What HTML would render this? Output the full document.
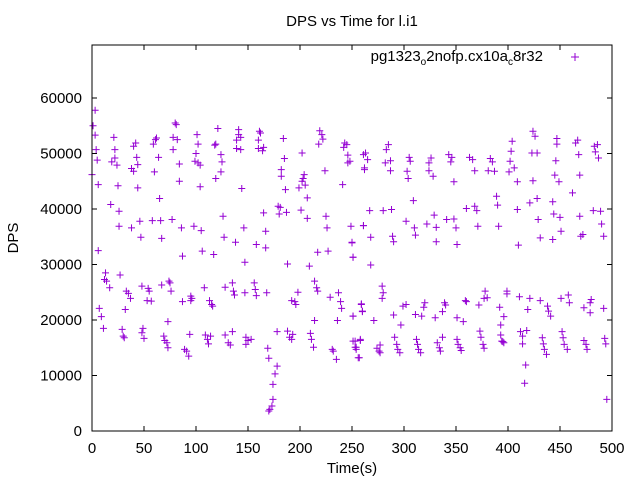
<!DOCTYPE html>
<html><head><meta charset="utf-8"><style>
html,body{margin:0;padding:0;background:#fff;}
svg{display:block;font-family:"Liberation Sans",Arial,sans-serif;}
</style></head><body>
<svg id="chart" width="640" height="480" viewBox="0 0 640 480" xmlns="http://www.w3.org/2000/svg">
<rect width="640" height="480" fill="#fff"/>
<text x="352" y="26" font-size="15" text-anchor="middle" fill="#000">DPS vs Time for l.i1</text>
<text x="0" y="0" font-size="15" text-anchor="middle" transform="translate(18,238) rotate(-90)">DPS</text>
<text x="352" y="473" font-size="15" text-anchor="middle">Time(s)</text>
<g id="ticks"></g>
<g id="points"></g>
<rect x="92" y="45" width="520" height="386" fill="none" stroke="#000" stroke-width="1"/>
<g>
<text x="543" y="61" font-size="15" text-anchor="end">pg1323<tspan font-size="10" dy="4">o</tspan><tspan dy="-4">2nofp.cx10a</tspan><tspan font-size="10" dy="4">c</tspan><tspan dy="-4">8r32</tspan></text>
<path d="M571 57h8M575 53v8" stroke="#9400d3" stroke-width="1"/>
</g>
</svg>
<script>
const xTicks = [0, 50, 100, 150, 200, 250, 300, 350, 400, 450, 500];
const yTicks = [0, 10000, 20000, 30000, 40000, 50000, 60000];
const samples = [
[3,57800],[1,55000],[3,53300],[4,50700],[5,48800],[21,52900],[22,50700],[19,48500],[22,49200],[24,47900],[40,51300],[42,51900],[43,49300],[44,48000],[38,47300],[40,46800],[59,51700],[61,52500],[62,52800],[64,49300],[60,46700],[80,55500],[81,55200],[78,52900],[82,52500],[78,50700],[84,48100],[84,45000],[101,53400],[102,51700],[100,50000],[99,48600],[102,48300],[104,47900],[121,54500],[119,51700],[118,51500],[124,49800],[125,48500],[124,46700],[119,45500],[141,54300],[141,53400],[143,52900],[139,52400],[139,50900],[143,50700],[160,52400],[162,53700],[161,54000],[160,50900],[164,50500],[165,51100],[184,52700],[185,49100],[182,47100],[182,45900],[186,43500],[144,43700],[202,50100],[204,46200],[203,45500],[202,45000],[205,44300],[199,43800],[207,42000],[219,54100],[221,53400],[222,52600],[218,51700],[224,46900],[242,51100],[243,51900],[245,51600],[246,49700],[246,48300],[241,44400],[261,49800],[262,47100],[6,44400],[25,44200],[44,43800],[65,41900],[104,44000],[0,46200],
[18,40800],[26,39600],[26,36900],[38,36600],[46,37800],[47,34900],[58,37900],[66,37900],[67,34700],[77,38100],[86,36600],[87,31500],[98,36900],[105,36100],[106,32400],[117,31800],[126,38700],[127,34900],[138,34000],[146,36600],[147,30400],[158,33600],[165,39300],[167,36000],[167,33000],[179,40500],[181,40300],[180,39100],[187,39400],[188,30100],[201,39800],[207,38300],[209,29700],[217,32200],[225,38700],[226,36600],[227,32400],[249,36900],[250,34000],[251,31300],[261,37000],[6,32500],
[13,28500],[12,27300],[14,27000],[17,25800],[27,28100],[33,25200],[35,24800],[37,23900],[32,21900],[48,26100],[53,23500],[54,25700],[55,25200],[57,23400],[67,26300],[74,27000],[75,26700],[76,25200],[87,23300],[95,24300],[96,23900],[95,23500],[108,25800],[113,23500],[115,22800],[116,22500],[128,25900],[135,26700],[136,25200],[137,24500],[147,24900],[156,26700],[157,25500],[158,24400],[168,24900],[192,23500],[195,23300],[196,22800],[198,25000],[214,19900],[214,27000],[216,25800],[217,25200],[229,24100],[236,19900],[237,24900],[239,23300],[240,22100],[251,20700],[259,22800],[260,21500],[7,22100],[9,20600],[11,18500],[73,19700],
[29,18300],[30,17100],[31,16800],[48,17700],[49,18500],[50,16700],[69,17100],[70,16300],[72,15900],[73,15000],[89,14700],[91,14400],[93,13500],[94,17400],[109,17300],[111,16500],[112,15700],[114,17100],[128,17300],[131,15900],[133,15500],[135,17900],[148,16900],[150,16300],[153,16500],[148,15600],[169,14900],[170,13100],[170,3600],[171,3900],[173,4500],[174,5700],[174,8400],[176,10300],[178,11700],[178,17900],[188,18000],[190,16900],[192,16500],[193,17400],[210,17600],[211,16500],[213,15100],[231,14700],[232,14400],[235,12900],[253,16200],[254,15100],[256,13200],[258,16500],
[263,50100],[265,48900],[262,47400],[283,50700],[285,51600],[282,48300],[287,48700],[287,46900],[305,49300],[306,48600],[303,46800],[304,45500],[324,48300],[326,49200],[324,46900],[328,45900],[343,49800],[346,49300],[345,48500],[348,44900],[363,49300],[366,48900],[368,46900],[383,49100],[385,48500],[381,46900],[387,46800],[404,52200],[403,50400],[402,48600],[401,46700],[406,47400],[409,44900],[424,54000],[426,53100],[423,50100],[428,50100],[424,45100],[447,52700],[447,51700],[446,48700],[445,46100],[449,44900],[465,51900],[467,52400],[468,49800],[469,46100],[483,51300],[484,50300],[487,49200],[486,51600],[248,48600],
[261,37000],[268,29900],[267,39700],[268,34900],[280,39700],[288,39900],[289,35100],[290,34100],[302,37800],[310,36600],[311,35300],[309,41500],[322,37300],[329,38900],[331,36700],[331,34100],[341,38100],[348,38200],[350,36600],[351,33600],[360,40100],[368,40500],[370,39700],[371,36900],[389,42300],[390,40700],[391,36900],[410,33500],[409,39900],[421,41100],[428,41900],[429,38100],[431,34800],[443,41300],[444,39100],[450,38500],[451,36000],[443,34500],[462,42900],[469,38700],[470,35100],[472,35400],[482,39700],[489,39600],[490,37300],[492,35100],[250,33900],[251,31300],
[259,22900],[260,21600],[271,19900],[279,26100],[280,24900],[279,23900],[290,20900],[297,19100],[299,22500],[302,22800],[311,21000],[317,20700],[319,22300],[320,23100],[330,20400],[337,21500],[340,22700],[339,23100],[351,20400],[357,19700],[359,23500],[360,23300],[372,22700],[378,25200],[380,24000],[377,23900],[392,22300],[393,19100],[396,20600],[399,25200],[399,24700],[411,24200],[419,21900],[421,23900],[431,23500],[438,22500],[439,21600],[441,20700],[451,23900],[458,24500],[459,23100],[473,22200],[479,23100],[480,23700],[479,21300],[492,22100],[251,20700],
[251,16200],[253,15100],[254,14700],[257,13200],[258,16300],[274,14900],[276,14400],[277,15500],[277,14100],[291,16900],[293,15600],[294,14700],[296,14100],[312,16500],[314,14700],[316,14100],[313,15600],[332,15900],[334,15000],[335,14400],[337,16900],[351,16500],[354,15000],[355,14500],[352,15600],[373,18000],[374,16900],[376,15600],[377,14900],[393,17300],[395,16100],[396,15900],[394,16200],[412,17900],[414,17100],[414,15700],[418,18100],[417,11900],[416,8600],[433,16800],[434,15700],[435,14700],[437,13800],[452,17900],[453,16800],[454,15600],[457,14700],[473,16300],[475,15600],[476,14700],[493,16700],[494,15700],[495,5700]
];
const NS = "http://www.w3.org/2000/svg";
const X0 = 92, X1 = 612, Y0 = 431, YTOP = 45;
function xs(t){ return X0 + t / 500 * (X1 - X0); }
function ys(v){ return Y0 - v / 60000 * 333; }
const tg = document.getElementById('ticks');
xTicks.forEach(function(t){
  const x = xs(t);
  const p = document.createElementNS(NS, 'path');
  p.setAttribute('d', 'M' + x + ' ' + Y0 + 'v-5M' + x + ' ' + YTOP + 'v5');
  p.setAttribute('stroke', '#000');
  
  
  tg.appendChild(p);
  const tx = document.createElementNS(NS, 'text');
  tx.setAttribute('x', x); tx.setAttribute('y', 453);
  tx.setAttribute('font-size', '15'); tx.setAttribute('text-anchor', 'middle');
  tx.textContent = t;
  
  
  tg.appendChild(tx);
});
yTicks.forEach(function(v){
  const y = ys(v);
  const p = document.createElementNS(NS, 'path');
  p.setAttribute('d', 'M' + X0 + ' ' + y + 'h5M' + X1 + ' ' + y + 'h-5');
  p.setAttribute('stroke', '#000');
  
  
  tg.appendChild(p);
  const tx = document.createElementNS(NS, 'text');
  tx.setAttribute('x', 82); tx.setAttribute('y', y + 5);
  tx.setAttribute('font-size', '15'); tx.setAttribute('text-anchor', 'end');
  tx.textContent = v;
  
  
  tg.appendChild(tx);
});
const pg = document.getElementById('points');
samples.forEach(function(s){
  const x = xs(s[0]), y = ys(s[1]);
  const p = document.createElementNS(NS, 'path');
  p.setAttribute('d', 'M' + (x - 3.5) + ' ' + y + 'h7M' + x + ' ' + (y - 3.5) + 'v7');
  p.setAttribute('stroke', '#9400d3');
  p.setAttribute('stroke-width', '1');
  p.setAttribute('fill', 'none');
  
  
  pg.appendChild(p);
});
</script>
</body></html>
